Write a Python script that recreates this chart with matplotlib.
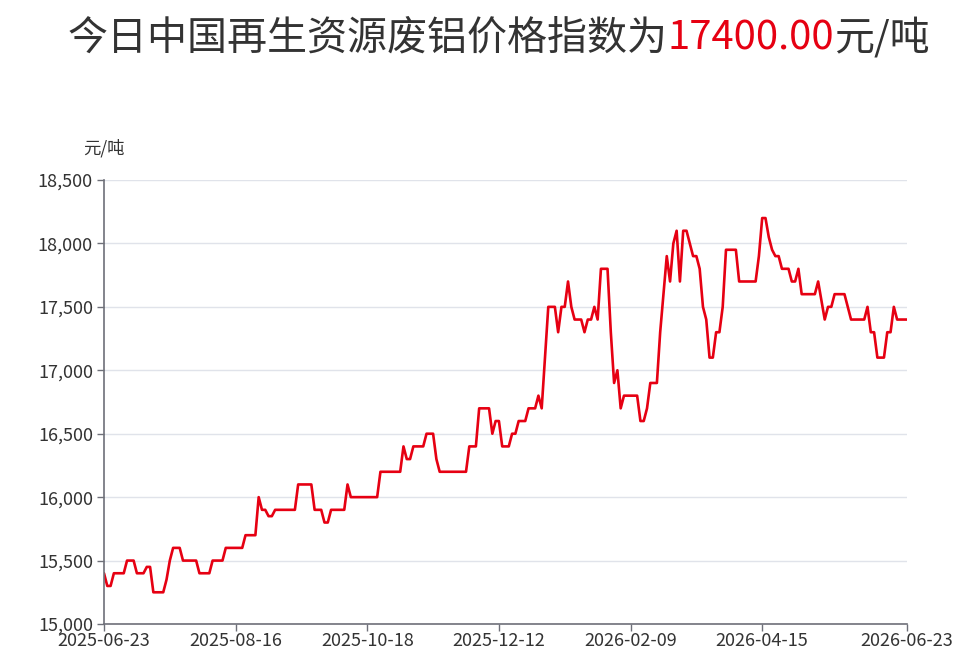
import matplotlib
matplotlib.use('Agg')
import matplotlib.pyplot as plt
from matplotlib.ticker import MultipleLocator, FuncFormatter

plt.rcParams['font.family'] = ['Noto Sans CJK SC', 'DejaVu Sans']

# daily index values (yuan/ton)
prices = [
    15400, 15300, 15300, 15400, 15400, 15400, 15400, 15500, 15500, 15500,
    15400, 15400, 15400, 15450, 15450, 15250, 15250, 15250, 15250, 15350,
    15500, 15600, 15600, 15600, 15500, 15500, 15500, 15500, 15500, 15400,
    15400, 15400, 15400, 15500, 15500, 15500, 15500, 15600, 15600, 15600,
    15600, 15600, 15600, 15700, 15700, 15700, 15700, 16000, 15900, 15900,
    15850, 15850, 15900, 15900, 15900, 15900, 15900, 15900, 15900, 16100,
    16100, 16100, 16100, 16100, 15900, 15900, 15900, 15800, 15800, 15900,
    15900, 15900, 15900, 15900, 16100, 16000, 16000, 16000, 16000, 16000,
    16000, 16000, 16000, 16000, 16200, 16200, 16200, 16200, 16200, 16200,
    16200, 16400, 16300, 16300, 16400, 16400, 16400, 16400, 16500, 16500,
    16500, 16300, 16200, 16200, 16200, 16200, 16200, 16200, 16200, 16200,
    16200, 16400, 16400, 16400, 16700, 16700, 16700, 16700, 16500, 16600,
    16600, 16400, 16400, 16400, 16500, 16500, 16600, 16600, 16600, 16700,
    16700, 16700, 16800, 16700, 17100, 17500, 17500, 17500, 17300, 17500,
    17500, 17700, 17500, 17400, 17400, 17400, 17300, 17400, 17400, 17500,
    17400, 17800, 17800, 17800, 17300, 16900, 17000, 16700, 16800, 16800,
    16800, 16800, 16800, 16600, 16600, 16700, 16900, 16900, 16900, 17300,
    17600, 17900, 17700, 18000, 18100, 17700, 18100, 18100, 18000, 17900,
    17900, 17800, 17500, 17400, 17100, 17100, 17300, 17300, 17500, 17950,
    17950, 17950, 17950, 17700, 17700, 17700, 17700, 17700, 17700, 17900,
    18200, 18200, 18050, 17950, 17900, 17900, 17800, 17800, 17800, 17700,
    17700, 17800, 17600, 17600, 17600, 17600, 17600, 17700, 17550, 17400,
    17500, 17500, 17600, 17600, 17600, 17600, 17500, 17400, 17400, 17400,
    17400, 17400, 17500, 17300, 17300, 17100, 17100, 17100, 17300, 17300,
    17500, 17400, 17400, 17400, 17400,
]
date_labels = ['2025-06-23', '2025-08-16', '2025-10-18', '2025-12-12',
               '2026-02-09', '2026-04-15', '2026-06-23']
title_parts = ['今日中国再生资源废铝价格指数为', '17400.00', '元/吨']
title_colors = ['#333333', '#e60012', '#333333']

n = len(prices)
tick_idx = list(range(0, n - 40, 40)) + [n - 1]

fig = plt.figure(figsize=(9.8, 6.66), dpi=100)
ax = fig.add_axes([104 / 980, 1 - 624 / 666, (907 - 104) / 980, (624 - 180) / 666])

ax.plot(range(n), prices, color='#e60012', lw=1.9, solid_joinstyle='round',
        solid_capstyle='round')

ax.set_xlim(0, n - 1)
ax.set_ylim(15000, 18500)
ax.yaxis.set_major_locator(MultipleLocator(500))
ax.yaxis.set_major_formatter(FuncFormatter(lambda v, p: f'{v:,.0f}'))
ax.set_xticks(tick_idx)
ax.set_xticklabels(date_labels)

ax.grid(axis='y', color='#e0e3ea', lw=1)
ax.set_axisbelow(True)
for s in ['top', 'right']:
    ax.spines[s].set_visible(False)
for s in ['left', 'bottom']:
    ax.spines[s].set_color('#6e7079')
    ax.spines[s].set_linewidth(1.2)
ax.tick_params(axis='both', colors='#6e7079', labelcolor='#333333',
               labelsize=13, length=5, width=1)
ax.tick_params(axis='y', pad=3)
ax.tick_params(axis='x', pad=1)

ax.text(0, 1.072, '元/吨', transform=ax.transAxes, ha='center', va='center',
        fontsize=12.5, color='#333333')

# title in three coloured pieces, centred as a whole
fig.canvas.draw()
r = fig.canvas.get_renderer()
pieces = []
for txt, c in zip(title_parts, title_colors):
    t = fig.text(0, 0.925, txt, fontsize=28.8, color=c, ha='left', va='baseline')
    pieces.append(t)
widths = [p.get_window_extent(r).width / fig.bbox.width for p in pieces]
x0 = 0.509 - sum(widths) / 2
for p, w in zip(pieces, widths):
    p.set_x(x0)
    x0 += w

fig.savefig('out.png', dpi=100)
